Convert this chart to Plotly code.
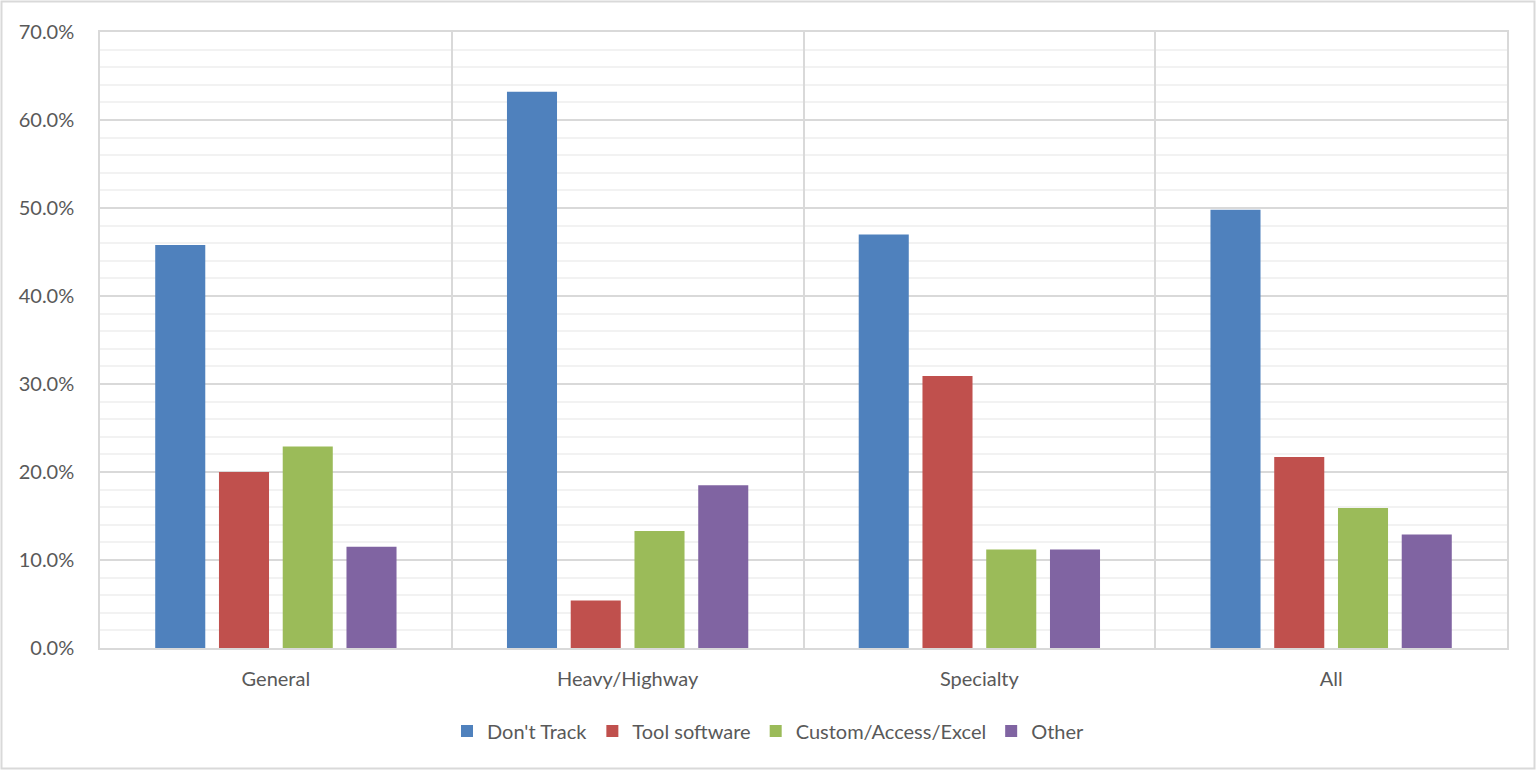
import plotly.graph_objects as go

categories = ["General", "Heavy/Highway", "Specialty", "All"]
dont_track = [45.8, 63.2, 47.0, 49.8]
tool_software = [20.0, 5.4, 30.9, 21.7]
custom_access_excel = [22.9, 13.3, 11.2, 15.9]
other = [11.5, 18.5, 11.2, 12.9]

series = [
    ("Don't Track", dont_track, "#4F81BD"),
    ("Tool software", tool_software, "#C0504D"),
    ("Custom/Access/Excel", custom_access_excel, "#9BBB59"),
    ("Other", other, "#8064A2"),
]

FONT = "Lato, 'Open Sans', sans-serif"
TEXT = "#595959"
GRID = "#D9D9D9"
MINOR = "#F2F2F2"
FS = 20

fig = go.Figure()
for name, vals, color in series:
    fig.add_trace(go.Bar(
        name=name, x=categories, y=vals,
        marker=dict(color=color, line=dict(width=0)),
        hovertemplate="%{x}: %{y:.1f}%<extra>" + name + "</extra>",
    ))

W, H = 1537, 771
L, R, T, B = 100, 30, 32, 123
pw, ph = W - L - R, H - T - B

fig.update_layout(
    width=W, height=H,
    margin=dict(l=L, r=R, t=T, b=B),
    paper_bgcolor="white", plot_bgcolor="white",
    barmode="group", bargap=0.275, bargroupgap=0.215,
    font=dict(family=FONT, size=FS, color=TEXT),
    legend=dict(
        orientation="h", xref="container", yref="container",
        x=0.5, xanchor="center", y=1 - 731 / H, yanchor="middle",
        font=dict(size=FS, color=TEXT), itemwidth=30,
        traceorder="normal",
    ),
    showlegend=True,
)

fig.update_xaxes(
    type="category", tickson="boundaries",
    showgrid=True, gridcolor=GRID, gridwidth=1.5,
    showline=True, linecolor=GRID, linewidth=1.5, mirror=True,
    ticks="", ticklen=0, ticklabelstandoff=12,
    tickfont=dict(size=FS, color=TEXT),
)
fig.update_yaxes(
    range=[0, 70], dtick=10, tickformat=".1f", ticksuffix="%",
    showgrid=True, gridcolor=GRID, gridwidth=1.5,
    minor=dict(dtick=2, showgrid=True, gridcolor=MINOR, gridwidth=1.5),
    showline=True, linecolor=GRID, linewidth=1.5, mirror=True,
    zeroline=False, ticks="", ticklabelstandoff=20,
    tickfont=dict(size=FS, color=TEXT),
)

# outer chart border
fig.add_shape(
    type="rect", xref="paper", yref="paper",
    x0=(1.5 - L) / pw, x1=(W - 2.5 - L) / pw,
    y0=(H - B - (H - 2.5)) / ph, y1=(H - B - 1.5) / ph,
    line=dict(color=GRID, width=2), fillcolor="rgba(0,0,0,0)", layer="below",
)

fig.write_html("out.html")
